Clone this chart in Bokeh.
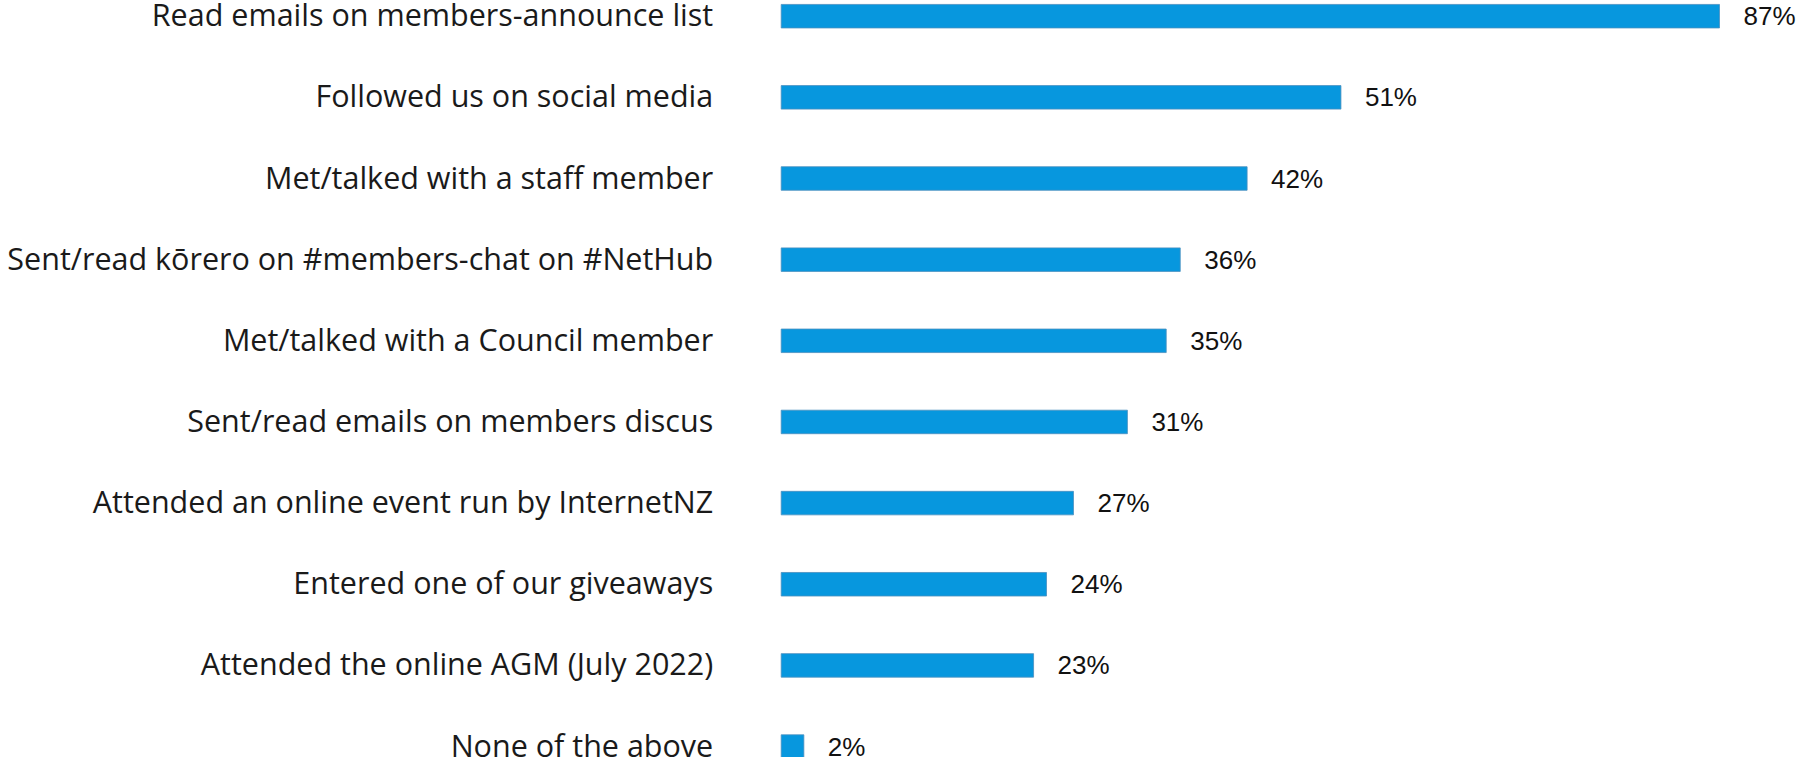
import numpy as np
from bokeh.plotting import figure
from bokeh.models import ColumnDataSource, Range1d
from bokeh.core.properties import value
from bokeh.embed import file_html
from bokeh.resources import INLINE

categories = [
    "Read emails on members-announce list",
    "Followed us on social media",
    "Met/talked with a staff member",
    "Sent/read kōrero on #members-chat on #NetHub",
    "Met/talked with a Council member",
    "Sent/read emails on members discus",
    "Attended an online event run by InternetNZ",
    "Entered one of our giveaways",
    "Attended the online AGM (July 2022)",
    "None of the above",
]
# bar lengths (percent)
bar_values = [87.0, 51.9, 43.2, 37.0, 35.7, 32.1, 27.1, 24.6, 23.4, 2.1]
value_labels = ["87%", "51%", "42%", "36%", "35%", "31%", "27%", "24%", "23%", "2%"]

W, H = 1796, 757
px_per_unit_x = 10.785
bar_left_px = 780.7
x_start = -bar_left_px / px_per_unit_x
x_end = x_start + W / px_per_unit_x

px_per_row = 81.15
top_px = 15.7
y_end = -top_px / px_per_row
y_start = y_end + H / px_per_row

n = len(categories)
src = ColumnDataSource(dict(
    y=list(range(n)),
    v=bar_values,
    cat=categories,
    lab=value_labels,
    zero=[0] * n,
))

p = figure(width=W, height=H, output_backend="svg", toolbar_location=None,
           x_range=Range1d(x_start, x_end), y_range=Range1d(y_start, y_end),
           min_border=0, min_border_left=0, min_border_right=0,
           min_border_top=0, min_border_bottom=0)
p.axis.visible = False
p.grid.visible = False
p.outline_line_color = None
p.background_fill_color = "white"
p.border_fill_color = "white"

p.hbar(y="y", left="zero", right="v", height=0.29, source=src,
       fill_color="#0797DE", line_color="#4A8FBF", line_width=0.8)

p.text(x="v", y="y", text="lab", source=src, x_offset=24,
       text_align="left", text_baseline="middle",
       text_font=value("Liberation Sans"), text_font_size="26px",
       text_color="#111111")

p.text(x="zero", y="y", text="cat", source=src, x_offset=-68, y_offset=-2,
       text_align="right", text_baseline="middle",
       text_font=value("Open Sans"), text_font_size="30.5px",
       text_color="#1a1a1a")

out = file_html(p, INLINE)
open("out.html", "w").write(out)
